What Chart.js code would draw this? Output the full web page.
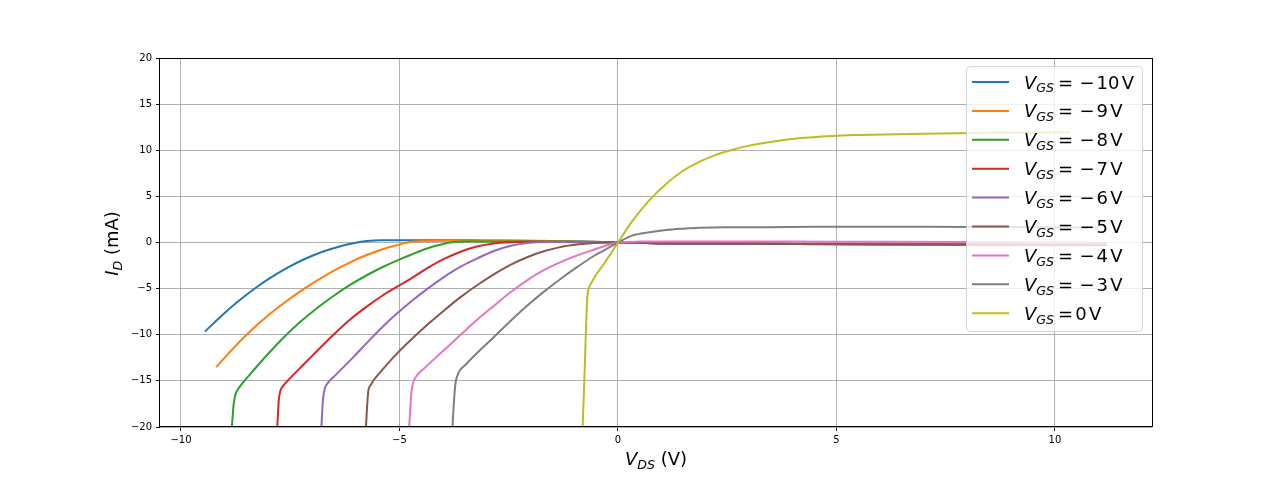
<!DOCTYPE html>
<html>
<head>
<meta charset="utf-8">
<title>Output characteristics</title>
<script src="https://cdn.jsdelivr.net/npm/chart.js@4.4.1/dist/chart.umd.min.js"></script>
<style>
  html, body { margin: 0; padding: 0; background: #fff; }
  #wrap { width: 1280px; height: 480px; }
</style>
</head>
<body>
<div id="wrap"><canvas id="ivChart" width="1280" height="480"></canvas></div>
<script>
// Gate voltages, one curve each
const gateVoltages = [-10, -9, -8, -7, -6, -5, -4, -3, 0];
const lineColors = ['#1f77b4', '#ff7f0e', '#2ca02c', '#d62728', '#9467bd', '#8c564b', '#e377c2', '#7f7f7f', '#bcbd22'];

// Tick values
const xTicks = [-10, -5, 0, 5, 10];
const yTicks = [-20, -15, -10, -5, 0, 5, 10, 15, 20];

// V_DS (V) / I_D (mA)
const vdsM10 = [-9.45, -9.07, -8.69, -8.31, -7.93, -7.55, -7.17, -6.79, -6.41, -6.03, -5.75, -5.4, -5.0, -4.0, -3.0, -2.0, -1.0, -0.5, 0, 0.5, 1, 2, 4, 6, 8, 10, 11.19];
const idM10 = [-9.64, -7.93, -6.37, -4.98, -3.76, -2.7, -1.79, -1.05, -0.48, -0.06, 0.15, 0.25, 0.25, 0.25, 0.22, 0.2, 0.14, 0.07, 0, -0.05, -0.1, -0.12, -0.15, -0.18, -0.2, -0.22, -0.25];

const vdsM9 = [-9.19, -8.8, -8.42, -8.03, -7.65, -7.27, -6.89, -6.51, -6.13, -5.75, -5.37, -4.98, -4.75, -4.4, -4.0, -3.0, -2.0, -1.0, -0.5, 0, 0.5, 1, 2, 4, 6, 8, 10, 11.19];
const idM9 = [-13.5, -11.45, -9.65, -8.0, -6.58, -5.3, -4.14, -3.08, -2.15, -1.36, -0.7, -0.18, 0.06, 0.16, 0.18, 0.18, 0.16, 0.1, 0.05, 0, -0.05, -0.1, -0.12, -0.15, -0.18, -0.2, -0.22, -0.25];

const vdsM8 = [-8.84, -8.82, -8.8, -8.77, -8.72, -8.65, -8.42, -8.03, -7.65, -7.27, -6.89, -6.51, -6.13, -5.75, -5.37, -4.98, -4.75, -4.37, -4.1, -3.84, -3.5, -3.0, -2.0, -1.0, -0.5, 0, 0.5, 1, 2, 4, 6, 8, 10, 11.19];
const idM8 = [-20.3, -19, -17.8, -16.8, -16.1, -15.6, -14.3, -12.2, -10.3, -8.6, -7.12, -5.8, -4.6, -3.55, -2.63, -1.8, -1.35, -0.65, -0.28, 0.0, 0.1, 0.1, 0.1, 0.08, 0.04, 0, -0.05, -0.1, -0.12, -0.15, -0.18, -0.2, -0.22, -0.25];

const vdsM7 = [-7.8, -7.78, -7.76, -7.72, -7.67, -7.62, -7.43, -7.2, -6.97, -6.74, -6.51, -6.13, -5.75, -5.37, -4.98, -4.75, -4.37, -3.99, -3.6, -3.23, -2.85, -2.46, -2.0, -1.0, -0.5, 0, 0.5, 1, 2, 4, 6, 8, 10, 11.19];
const idM7 = [-20.3, -18.5, -17, -16, -15.6, -15.3, -14.35, -13.25, -12.15, -11.05, -10.0, -8.35, -6.95, -5.69, -4.58, -3.95, -2.8, -1.8, -1.0, -0.44, -0.1, 0.04, 0.08, 0.06, 0.03, 0, -0.05, -0.1, -0.12, -0.15, -0.18, -0.2, -0.22, -0.25];

const vdsM6 = [-6.79, -6.77, -6.75, -6.7, -6.65, -6.59, -6.47, -6.05, -5.67, -5.29, -4.98, -4.75, -4.37, -4.0, -3.61, -3.2, -2.84, -2.45, -2.08, -1.5, -1.0, -0.5, 0, 0.5, 1, 2, 4, 6, 8, 10, 11.19];
const idM6 = [-20.3, -18.5, -17, -15.7, -15.3, -14.95, -14.4, -12.4, -10.5, -8.7, -7.38, -6.45, -5.05, -3.8, -2.65, -1.68, -0.92, -0.36, -0.05, 0.05, 0.04, 0.02, 0, -0.05, -0.1, -0.12, -0.15, -0.18, -0.2, -0.22, -0.25];

const vdsM5 = [-5.77, -5.75, -5.73, -5.71, -5.65, -5.58, -5.5, -5.14, -4.75, -4.37, -4.0, -3.61, -3.2, -2.84, -2.45, -2.08, -1.7, -1.32, -0.9, -0.55, -0.25, 0, 0.5, 1, 2, 4, 6, 8, 10, 11.19];
const idM5 = [-20.3, -18.5, -17, -16, -15.4, -14.85, -14.4, -12.45, -10.6, -8.95, -7.45, -5.95, -4.55, -3.45, -2.4, -1.6, -0.95, -0.5, -0.2, -0.05, 0.02, 0, -0.05, -0.08, -0.1, -0.15, -0.2, -0.25, -0.3, -0.3];

const vdsM4 = [-4.78, -4.76, -4.74, -4.72, -4.68, -4.6, -4.45, -4.3, -3.99, -3.6, -3.23, -2.85, -2.46, -2.08, -1.7, -1.3, -0.93, -0.6, -0.32, 0, 0.5, 1, 2, 4, 6, 8, 10, 11.19];
const idM4 = [-20.3, -18.5, -17, -16, -15.1, -14.4, -13.7, -13.05, -11.7, -10.0, -8.4, -6.9, -5.4, -4.1, -3.0, -2.1, -1.4, -0.85, -0.4, 0, 0.1, 0.12, 0.12, 0.1, 0.08, 0.05, 0.0, -0.05];

const vdsM3 = [-3.79, -3.77, -3.75, -3.72, -3.68, -3.63, -3.5, -3.23, -2.85, -2.46, -2.08, -1.7, -1.3, -0.93, -0.6, -0.32, 0, 0.34, 0.72, 1.1, 1.5, 1.86, 2.5, 3.38, 4.5, 5.5, 7, 8.5, 10, 11.0];
const idM3 = [-20.3, -18.5, -17, -15.3, -14.5, -13.95, -13.3, -12.0, -10.3, -8.5, -6.85, -5.35, -3.9, -2.65, -1.6, -0.85, 0, 0.77, 1.1, 1.35, 1.5, 1.6, 1.65, 1.65, 1.7, 1.7, 1.7, 1.68, 1.65, 1.6];

const vds0 = [-0.81, -0.79, -0.77, -0.75, -0.73, -0.70, -0.66, -0.6, -0.5, -0.32, -0.15, 0, 0.34, 0.72, 1.1, 1.48, 1.86, 2.24, 2.62, 3.0, 3.38, 4.14, 4.9, 5.5, 7, 8.5, 10.33];
const id0 = [-20.3, -17.5, -15, -12, -9, -5.9, -4.9, -4.3, -3.5, -2.3, -1.1, 0, 2.4, 4.6, 6.35, 7.75, 8.75, 9.5, 10.05, 10.5, 10.82, 11.3, 11.55, 11.65, 11.8, 11.9, 11.95];

const vdsSeries = [vdsM10, vdsM9, vdsM8, vdsM7, vdsM6, vdsM5, vdsM4, vdsM3, vds0];
const idSeries = [idM10, idM9, idM8, idM7, idM6, idM5, idM4, idM3, id0];

const FONT = '"DejaVu Sans", sans-serif';

// Draws  main_sub rest  (italic main + italic subscript + upright rest)
function drawSubLabel(ctx, x, baseline, main, sub, rest, size) {
    ctx.font = `italic ${size}px ${FONT}`;
    ctx.fillText(main, x, baseline);
    let cx = x + ctx.measureText(main).width;
    ctx.font = `italic ${size * 0.7}px ${FONT}`;
    ctx.fillText(sub, cx, baseline + size * 0.22);
    cx += ctx.measureText(sub).width;
    ctx.font = `${size}px ${FONT}`;
    ctx.fillText(rest, cx, baseline);
    return cx + ctx.measureText(rest).width;
}

function subLabelWidth(ctx, main, sub, rest, size) {
    ctx.font = `italic ${size}px ${FONT}`;
    let w = ctx.measureText(main).width;
    ctx.font = `italic ${size * 0.7}px ${FONT}`;
    w += ctx.measureText(sub).width;
    ctx.font = `${size}px ${FONT}`;
    return w + ctx.measureText(rest).width;
}

// Frame, legend and axis titles drawn on top of the curves
const decorPlugin = {
    id: 'decor',
    afterDatasetsDraw(chart) {
        const { ctx, chartArea: a } = chart;
        ctx.save();

        // spines on all four sides
        ctx.strokeStyle = '#000';
        ctx.lineWidth = 1;
        ctx.strokeRect(Math.round(a.left) - 0.5, Math.round(a.top) + 0.5,
            Math.round(a.right - a.left) + 1, Math.round(a.bottom - a.top) - 1);

        // legend box
        ctx.beginPath();
        ctx.roundRect(966.5, 66.5, 176, 265, 4);
        ctx.fillStyle = 'rgba(255,255,255,0.8)';
        ctx.fill();
        ctx.strokeStyle = 'rgba(204,204,204,0.8)';
        ctx.stroke();

        const size = 18;
        gateVoltages.forEach((vg, i) => {
            const cy = 82 + i * 28.9;
            ctx.strokeStyle = lineColors[i];
            ctx.lineWidth = 2;
            ctx.beginPath();
            ctx.moveTo(972, cy);
            ctx.lineTo(1009, cy);
            ctx.stroke();

            const base = cy + 6.5;
            ctx.fillStyle = '#000';
            ctx.textBaseline = 'alphabetic';
            ctx.textAlign = 'left';
            drawSubLabel(ctx, 1024, base, 'V', 'GS', '', size);
            ctx.font = `${size}px ${FONT}`;
            ctx.fillText('=', 1058, base);
            let nx;
            if (vg < 0) {
                ctx.fillText('\u2212', 1079.5, base);
                nx = 1096.5;
            } else {
                nx = 1075.3;
            }
            const num = String(Math.abs(vg));
            ctx.fillText(num, nx, base);
            ctx.fillText('V', nx + ctx.measureText(num).width + 2.3, base);
        });

        // axis titles
        ctx.fillStyle = '#000';
        ctx.textAlign = 'left';
        ctx.textBaseline = 'alphabetic';
        const xw = subLabelWidth(ctx, 'V', 'DS', ' (V)', 18);
        drawSubLabel(ctx, (a.left + a.right) / 2 - xw / 2, 465, 'V', 'DS', ' (V)', 18);

        const yw = subLabelWidth(ctx, 'I', 'D', ' (mA)', 18);
        ctx.translate(118, (a.top + a.bottom) / 2 + 1);
        ctx.rotate(-Math.PI / 2);
        drawSubLabel(ctx, -yw / 2, 0, 'I', 'D', ' (mA)', 18);

        ctx.restore();
    }
};

const minusSign = v => String(v).replace('-', '\u2212');

const datasets = gateVoltages.map((vg, i) => ({
    label: 'V_GS = ' + vg + ' V',
    data: vdsSeries[i].map((v, k) => ({ x: v, y: idSeries[i][k] })),
    borderColor: lineColors[i],
    backgroundColor: lineColors[i],
    borderWidth: 2,
    pointRadius: 0,
    fill: false,
    cubicInterpolationMode: 'monotone',
    order: -i
}));

const ctx = document.getElementById('ivChart').getContext('2d');
new Chart(ctx, {
    type: 'line',
    data: { datasets },
    options: {
        responsive: false,
        animation: false,
        devicePixelRatio: 1,
        layout: { padding: { left: 0, right: 128, top: 58, bottom: 0 } },
        plugins: {
            legend: { display: false },
            tooltip: { enabled: false }
        },
        scales: {
            x: {
                type: 'linear',
                min: -10.48,
                max: 12.22,
                afterBuildTicks: scale => { scale.ticks = xTicks.map(v => ({ value: v })); },
                afterFit: scale => { scale.height = 53; },
                grid: { color: '#b0b0b0', lineWidth: 1, tickColor: '#000', tickLength: 4, tickWidth: 1 },
                border: { display: false },
                ticks: {
                    font: { family: FONT, size: 10 },
                    color: '#000',
                    padding: 3,
                    maxRotation: 0,
                    callback: minusSign
                }
            },
            y: {
                type: 'linear',
                min: -20,
                max: 20,
                afterBuildTicks: scale => { scale.ticks = yTicks.map(v => ({ value: v })); },
                afterFit: scale => { scale.width = 160; },
                grid: { color: '#b0b0b0', lineWidth: 1, tickColor: '#000', tickLength: 4, tickWidth: 1 },
                border: { display: false },
                ticks: {
                    font: { family: FONT, size: 10 },
                    color: '#000',
                    padding: 4,
                    callback: minusSign
                }
            }
        }
    },
    plugins: [decorPlugin]
});
</script>
</body>
</html>
